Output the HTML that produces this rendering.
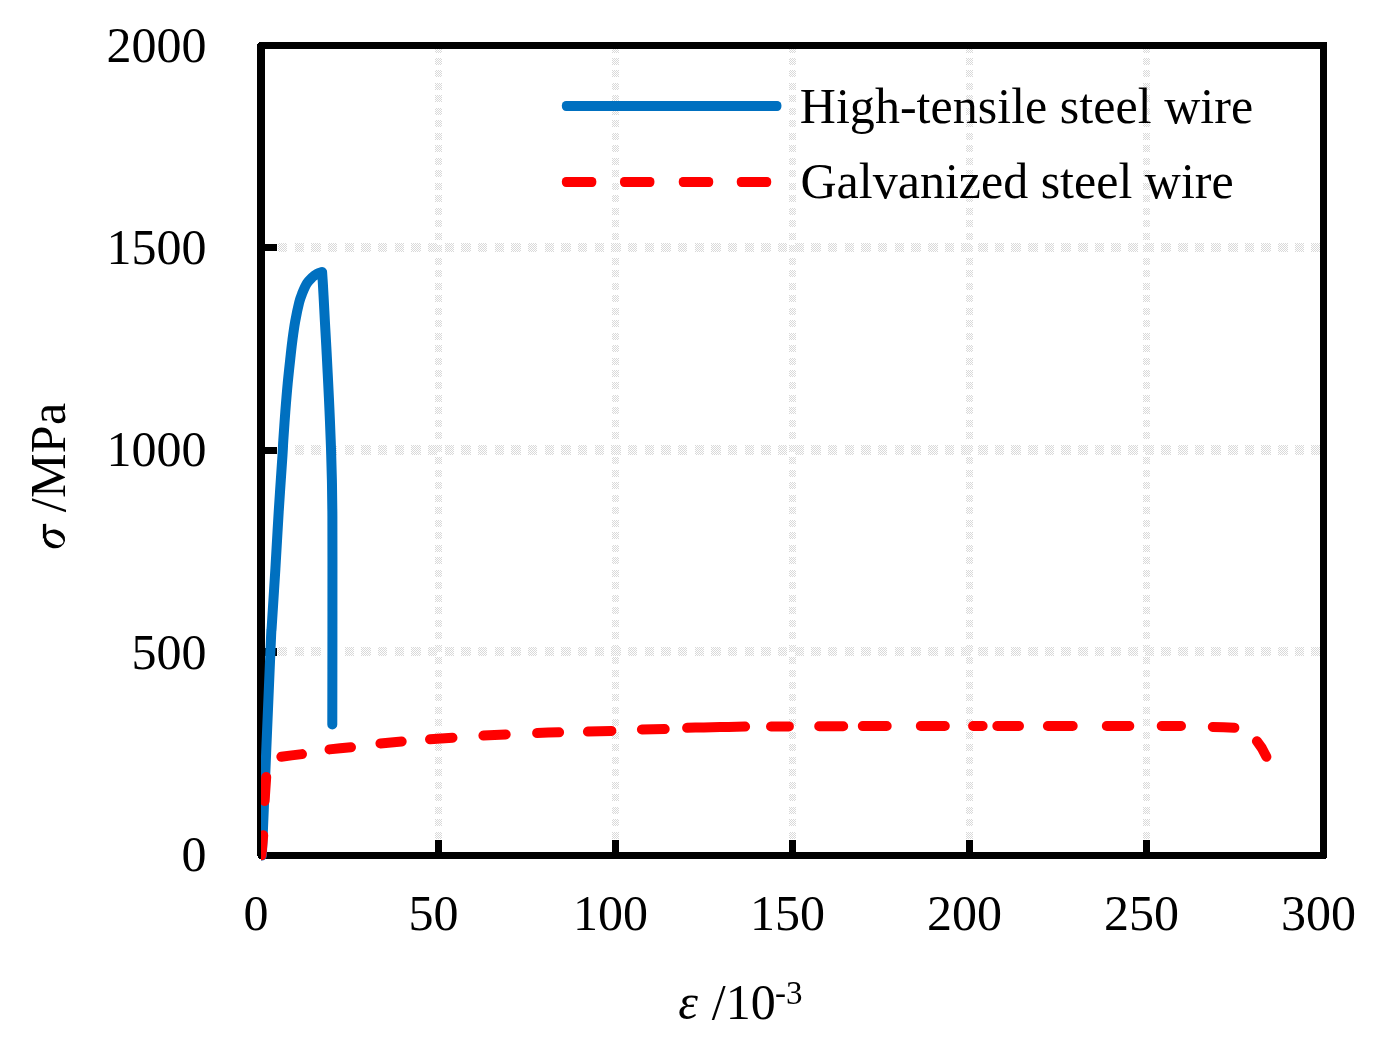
<!DOCTYPE html>
<html><head><meta charset="utf-8"><title>Stress-strain curves</title>
<style>html,body{margin:0;padding:0;background:#fff;}body{width:1378px;height:1055px;overflow:hidden;}svg{display:block;will-change:transform;}text{font-family:"Liberation Serif",serif;fill:#000;}</style>
</head><body>
<svg width="1378" height="1055" viewBox="0 0 1378 1055">
<defs>
<pattern id="chk" x="0" y="0" width="2" height="2" patternUnits="userSpaceOnUse"><rect x="0" y="0" width="1" height="1" fill="#d9d9d9"/><rect x="1" y="1" width="1" height="1" fill="#d9d9d9"/></pattern>
<clipPath id="ser"><rect x="261" y="0" width="1200" height="1055"/></clipPath>
</defs>
<rect x="0" y="0" width="1378" height="1055" fill="#fff"/>
<g fill="url(#chk)" shape-rendering="crispEdges">
<rect x="435" y="49" width="7" height="4"/>
<rect x="435" y="58" width="7" height="7"/>
<rect x="435" y="70" width="7" height="7"/>
<rect x="435" y="83" width="7" height="7"/>
<rect x="435" y="95" width="7" height="7"/>
<rect x="435" y="108" width="7" height="7"/>
<rect x="435" y="120" width="7" height="7"/>
<rect x="435" y="133" width="7" height="7"/>
<rect x="435" y="145" width="7" height="7"/>
<rect x="435" y="158" width="7" height="7"/>
<rect x="435" y="170" width="7" height="7"/>
<rect x="435" y="183" width="7" height="7"/>
<rect x="435" y="195" width="7" height="7"/>
<rect x="435" y="208" width="7" height="7"/>
<rect x="435" y="220" width="7" height="7"/>
<rect x="435" y="233" width="7" height="7"/>
<rect x="435" y="245" width="7" height="7"/>
<rect x="435" y="258" width="7" height="7"/>
<rect x="435" y="270" width="7" height="7"/>
<rect x="435" y="283" width="7" height="7"/>
<rect x="435" y="295" width="7" height="7"/>
<rect x="435" y="308" width="7" height="7"/>
<rect x="435" y="320" width="7" height="7"/>
<rect x="435" y="333" width="7" height="7"/>
<rect x="435" y="345" width="7" height="7"/>
<rect x="435" y="358" width="7" height="7"/>
<rect x="435" y="370" width="7" height="7"/>
<rect x="435" y="382" width="7" height="7"/>
<rect x="435" y="395" width="7" height="7"/>
<rect x="435" y="407" width="7" height="7"/>
<rect x="435" y="420" width="7" height="7"/>
<rect x="435" y="432" width="7" height="7"/>
<rect x="435" y="445" width="7" height="7"/>
<rect x="435" y="457" width="7" height="7"/>
<rect x="435" y="470" width="7" height="7"/>
<rect x="435" y="482" width="7" height="7"/>
<rect x="435" y="495" width="7" height="7"/>
<rect x="435" y="507" width="7" height="7"/>
<rect x="435" y="520" width="7" height="7"/>
<rect x="435" y="532" width="7" height="7"/>
<rect x="435" y="545" width="7" height="7"/>
<rect x="435" y="557" width="7" height="7"/>
<rect x="435" y="570" width="7" height="7"/>
<rect x="435" y="582" width="7" height="7"/>
<rect x="435" y="595" width="7" height="7"/>
<rect x="435" y="607" width="7" height="7"/>
<rect x="435" y="620" width="7" height="7"/>
<rect x="435" y="632" width="7" height="7"/>
<rect x="435" y="645" width="7" height="7"/>
<rect x="435" y="657" width="7" height="7"/>
<rect x="435" y="670" width="7" height="7"/>
<rect x="435" y="682" width="7" height="7"/>
<rect x="435" y="694" width="7" height="7"/>
<rect x="435" y="707" width="7" height="7"/>
<rect x="435" y="719" width="7" height="7"/>
<rect x="435" y="732" width="7" height="7"/>
<rect x="435" y="744" width="7" height="7"/>
<rect x="435" y="757" width="7" height="7"/>
<rect x="435" y="769" width="7" height="7"/>
<rect x="435" y="782" width="7" height="7"/>
<rect x="435" y="794" width="7" height="7"/>
<rect x="435" y="807" width="7" height="7"/>
<rect x="435" y="819" width="7" height="7"/>
<rect x="435" y="832" width="7" height="7"/>
<rect x="435" y="844" width="7" height="7"/>
<rect x="612" y="49" width="7" height="4"/>
<rect x="612" y="58" width="7" height="7"/>
<rect x="612" y="70" width="7" height="7"/>
<rect x="612" y="83" width="7" height="7"/>
<rect x="612" y="95" width="7" height="7"/>
<rect x="612" y="108" width="7" height="7"/>
<rect x="612" y="120" width="7" height="7"/>
<rect x="612" y="133" width="7" height="7"/>
<rect x="612" y="145" width="7" height="7"/>
<rect x="612" y="158" width="7" height="7"/>
<rect x="612" y="170" width="7" height="7"/>
<rect x="612" y="183" width="7" height="7"/>
<rect x="612" y="195" width="7" height="7"/>
<rect x="612" y="208" width="7" height="7"/>
<rect x="612" y="220" width="7" height="7"/>
<rect x="612" y="233" width="7" height="7"/>
<rect x="612" y="245" width="7" height="7"/>
<rect x="612" y="258" width="7" height="7"/>
<rect x="612" y="270" width="7" height="7"/>
<rect x="612" y="283" width="7" height="7"/>
<rect x="612" y="295" width="7" height="7"/>
<rect x="612" y="308" width="7" height="7"/>
<rect x="612" y="320" width="7" height="7"/>
<rect x="612" y="333" width="7" height="7"/>
<rect x="612" y="345" width="7" height="7"/>
<rect x="612" y="358" width="7" height="7"/>
<rect x="612" y="370" width="7" height="7"/>
<rect x="612" y="382" width="7" height="7"/>
<rect x="612" y="395" width="7" height="7"/>
<rect x="612" y="407" width="7" height="7"/>
<rect x="612" y="420" width="7" height="7"/>
<rect x="612" y="432" width="7" height="7"/>
<rect x="612" y="445" width="7" height="7"/>
<rect x="612" y="457" width="7" height="7"/>
<rect x="612" y="470" width="7" height="7"/>
<rect x="612" y="482" width="7" height="7"/>
<rect x="612" y="495" width="7" height="7"/>
<rect x="612" y="507" width="7" height="7"/>
<rect x="612" y="520" width="7" height="7"/>
<rect x="612" y="532" width="7" height="7"/>
<rect x="612" y="545" width="7" height="7"/>
<rect x="612" y="557" width="7" height="7"/>
<rect x="612" y="570" width="7" height="7"/>
<rect x="612" y="582" width="7" height="7"/>
<rect x="612" y="595" width="7" height="7"/>
<rect x="612" y="607" width="7" height="7"/>
<rect x="612" y="620" width="7" height="7"/>
<rect x="612" y="632" width="7" height="7"/>
<rect x="612" y="645" width="7" height="7"/>
<rect x="612" y="657" width="7" height="7"/>
<rect x="612" y="670" width="7" height="7"/>
<rect x="612" y="682" width="7" height="7"/>
<rect x="612" y="694" width="7" height="7"/>
<rect x="612" y="707" width="7" height="7"/>
<rect x="612" y="719" width="7" height="7"/>
<rect x="612" y="732" width="7" height="7"/>
<rect x="612" y="744" width="7" height="7"/>
<rect x="612" y="757" width="7" height="7"/>
<rect x="612" y="769" width="7" height="7"/>
<rect x="612" y="782" width="7" height="7"/>
<rect x="612" y="794" width="7" height="7"/>
<rect x="612" y="807" width="7" height="7"/>
<rect x="612" y="819" width="7" height="7"/>
<rect x="612" y="832" width="7" height="7"/>
<rect x="612" y="844" width="7" height="7"/>
<rect x="789" y="49" width="7" height="4"/>
<rect x="789" y="58" width="7" height="7"/>
<rect x="789" y="70" width="7" height="7"/>
<rect x="789" y="83" width="7" height="7"/>
<rect x="789" y="95" width="7" height="7"/>
<rect x="789" y="108" width="7" height="7"/>
<rect x="789" y="120" width="7" height="7"/>
<rect x="789" y="133" width="7" height="7"/>
<rect x="789" y="145" width="7" height="7"/>
<rect x="789" y="158" width="7" height="7"/>
<rect x="789" y="170" width="7" height="7"/>
<rect x="789" y="183" width="7" height="7"/>
<rect x="789" y="195" width="7" height="7"/>
<rect x="789" y="208" width="7" height="7"/>
<rect x="789" y="220" width="7" height="7"/>
<rect x="789" y="233" width="7" height="7"/>
<rect x="789" y="245" width="7" height="7"/>
<rect x="789" y="258" width="7" height="7"/>
<rect x="789" y="270" width="7" height="7"/>
<rect x="789" y="283" width="7" height="7"/>
<rect x="789" y="295" width="7" height="7"/>
<rect x="789" y="308" width="7" height="7"/>
<rect x="789" y="320" width="7" height="7"/>
<rect x="789" y="333" width="7" height="7"/>
<rect x="789" y="345" width="7" height="7"/>
<rect x="789" y="358" width="7" height="7"/>
<rect x="789" y="370" width="7" height="7"/>
<rect x="789" y="382" width="7" height="7"/>
<rect x="789" y="395" width="7" height="7"/>
<rect x="789" y="407" width="7" height="7"/>
<rect x="789" y="420" width="7" height="7"/>
<rect x="789" y="432" width="7" height="7"/>
<rect x="789" y="445" width="7" height="7"/>
<rect x="789" y="457" width="7" height="7"/>
<rect x="789" y="470" width="7" height="7"/>
<rect x="789" y="482" width="7" height="7"/>
<rect x="789" y="495" width="7" height="7"/>
<rect x="789" y="507" width="7" height="7"/>
<rect x="789" y="520" width="7" height="7"/>
<rect x="789" y="532" width="7" height="7"/>
<rect x="789" y="545" width="7" height="7"/>
<rect x="789" y="557" width="7" height="7"/>
<rect x="789" y="570" width="7" height="7"/>
<rect x="789" y="582" width="7" height="7"/>
<rect x="789" y="595" width="7" height="7"/>
<rect x="789" y="607" width="7" height="7"/>
<rect x="789" y="620" width="7" height="7"/>
<rect x="789" y="632" width="7" height="7"/>
<rect x="789" y="645" width="7" height="7"/>
<rect x="789" y="657" width="7" height="7"/>
<rect x="789" y="670" width="7" height="7"/>
<rect x="789" y="682" width="7" height="7"/>
<rect x="789" y="694" width="7" height="7"/>
<rect x="789" y="707" width="7" height="7"/>
<rect x="789" y="719" width="7" height="7"/>
<rect x="789" y="732" width="7" height="7"/>
<rect x="789" y="744" width="7" height="7"/>
<rect x="789" y="757" width="7" height="7"/>
<rect x="789" y="769" width="7" height="7"/>
<rect x="789" y="782" width="7" height="7"/>
<rect x="789" y="794" width="7" height="7"/>
<rect x="789" y="807" width="7" height="7"/>
<rect x="789" y="819" width="7" height="7"/>
<rect x="789" y="832" width="7" height="7"/>
<rect x="789" y="844" width="7" height="7"/>
<rect x="966" y="49" width="7" height="4"/>
<rect x="966" y="58" width="7" height="7"/>
<rect x="966" y="70" width="7" height="7"/>
<rect x="966" y="83" width="7" height="7"/>
<rect x="966" y="95" width="7" height="7"/>
<rect x="966" y="108" width="7" height="7"/>
<rect x="966" y="120" width="7" height="7"/>
<rect x="966" y="133" width="7" height="7"/>
<rect x="966" y="145" width="7" height="7"/>
<rect x="966" y="158" width="7" height="7"/>
<rect x="966" y="170" width="7" height="7"/>
<rect x="966" y="183" width="7" height="7"/>
<rect x="966" y="195" width="7" height="7"/>
<rect x="966" y="208" width="7" height="7"/>
<rect x="966" y="220" width="7" height="7"/>
<rect x="966" y="233" width="7" height="7"/>
<rect x="966" y="245" width="7" height="7"/>
<rect x="966" y="258" width="7" height="7"/>
<rect x="966" y="270" width="7" height="7"/>
<rect x="966" y="283" width="7" height="7"/>
<rect x="966" y="295" width="7" height="7"/>
<rect x="966" y="308" width="7" height="7"/>
<rect x="966" y="320" width="7" height="7"/>
<rect x="966" y="333" width="7" height="7"/>
<rect x="966" y="345" width="7" height="7"/>
<rect x="966" y="358" width="7" height="7"/>
<rect x="966" y="370" width="7" height="7"/>
<rect x="966" y="382" width="7" height="7"/>
<rect x="966" y="395" width="7" height="7"/>
<rect x="966" y="407" width="7" height="7"/>
<rect x="966" y="420" width="7" height="7"/>
<rect x="966" y="432" width="7" height="7"/>
<rect x="966" y="445" width="7" height="7"/>
<rect x="966" y="457" width="7" height="7"/>
<rect x="966" y="470" width="7" height="7"/>
<rect x="966" y="482" width="7" height="7"/>
<rect x="966" y="495" width="7" height="7"/>
<rect x="966" y="507" width="7" height="7"/>
<rect x="966" y="520" width="7" height="7"/>
<rect x="966" y="532" width="7" height="7"/>
<rect x="966" y="545" width="7" height="7"/>
<rect x="966" y="557" width="7" height="7"/>
<rect x="966" y="570" width="7" height="7"/>
<rect x="966" y="582" width="7" height="7"/>
<rect x="966" y="595" width="7" height="7"/>
<rect x="966" y="607" width="7" height="7"/>
<rect x="966" y="620" width="7" height="7"/>
<rect x="966" y="632" width="7" height="7"/>
<rect x="966" y="645" width="7" height="7"/>
<rect x="966" y="657" width="7" height="7"/>
<rect x="966" y="670" width="7" height="7"/>
<rect x="966" y="682" width="7" height="7"/>
<rect x="966" y="694" width="7" height="7"/>
<rect x="966" y="707" width="7" height="7"/>
<rect x="966" y="719" width="7" height="7"/>
<rect x="966" y="732" width="7" height="7"/>
<rect x="966" y="744" width="7" height="7"/>
<rect x="966" y="757" width="7" height="7"/>
<rect x="966" y="769" width="7" height="7"/>
<rect x="966" y="782" width="7" height="7"/>
<rect x="966" y="794" width="7" height="7"/>
<rect x="966" y="807" width="7" height="7"/>
<rect x="966" y="819" width="7" height="7"/>
<rect x="966" y="832" width="7" height="7"/>
<rect x="966" y="844" width="7" height="7"/>
<rect x="1143" y="49" width="7" height="4"/>
<rect x="1143" y="58" width="7" height="7"/>
<rect x="1143" y="70" width="7" height="7"/>
<rect x="1143" y="83" width="7" height="7"/>
<rect x="1143" y="95" width="7" height="7"/>
<rect x="1143" y="108" width="7" height="7"/>
<rect x="1143" y="120" width="7" height="7"/>
<rect x="1143" y="133" width="7" height="7"/>
<rect x="1143" y="145" width="7" height="7"/>
<rect x="1143" y="158" width="7" height="7"/>
<rect x="1143" y="170" width="7" height="7"/>
<rect x="1143" y="183" width="7" height="7"/>
<rect x="1143" y="195" width="7" height="7"/>
<rect x="1143" y="208" width="7" height="7"/>
<rect x="1143" y="220" width="7" height="7"/>
<rect x="1143" y="233" width="7" height="7"/>
<rect x="1143" y="245" width="7" height="7"/>
<rect x="1143" y="258" width="7" height="7"/>
<rect x="1143" y="270" width="7" height="7"/>
<rect x="1143" y="283" width="7" height="7"/>
<rect x="1143" y="295" width="7" height="7"/>
<rect x="1143" y="308" width="7" height="7"/>
<rect x="1143" y="320" width="7" height="7"/>
<rect x="1143" y="333" width="7" height="7"/>
<rect x="1143" y="345" width="7" height="7"/>
<rect x="1143" y="358" width="7" height="7"/>
<rect x="1143" y="370" width="7" height="7"/>
<rect x="1143" y="382" width="7" height="7"/>
<rect x="1143" y="395" width="7" height="7"/>
<rect x="1143" y="407" width="7" height="7"/>
<rect x="1143" y="420" width="7" height="7"/>
<rect x="1143" y="432" width="7" height="7"/>
<rect x="1143" y="445" width="7" height="7"/>
<rect x="1143" y="457" width="7" height="7"/>
<rect x="1143" y="470" width="7" height="7"/>
<rect x="1143" y="482" width="7" height="7"/>
<rect x="1143" y="495" width="7" height="7"/>
<rect x="1143" y="507" width="7" height="7"/>
<rect x="1143" y="520" width="7" height="7"/>
<rect x="1143" y="532" width="7" height="7"/>
<rect x="1143" y="545" width="7" height="7"/>
<rect x="1143" y="557" width="7" height="7"/>
<rect x="1143" y="570" width="7" height="7"/>
<rect x="1143" y="582" width="7" height="7"/>
<rect x="1143" y="595" width="7" height="7"/>
<rect x="1143" y="607" width="7" height="7"/>
<rect x="1143" y="620" width="7" height="7"/>
<rect x="1143" y="632" width="7" height="7"/>
<rect x="1143" y="645" width="7" height="7"/>
<rect x="1143" y="657" width="7" height="7"/>
<rect x="1143" y="670" width="7" height="7"/>
<rect x="1143" y="682" width="7" height="7"/>
<rect x="1143" y="694" width="7" height="7"/>
<rect x="1143" y="707" width="7" height="7"/>
<rect x="1143" y="719" width="7" height="7"/>
<rect x="1143" y="732" width="7" height="7"/>
<rect x="1143" y="744" width="7" height="7"/>
<rect x="1143" y="757" width="7" height="7"/>
<rect x="1143" y="769" width="7" height="7"/>
<rect x="1143" y="782" width="7" height="7"/>
<rect x="1143" y="794" width="7" height="7"/>
<rect x="1143" y="807" width="7" height="7"/>
<rect x="1143" y="819" width="7" height="7"/>
<rect x="1143" y="832" width="7" height="7"/>
<rect x="1143" y="844" width="7" height="7"/>
<rect x="278" y="647" width="9" height="9"/>
<rect x="295" y="647" width="9" height="9"/>
<rect x="311" y="647" width="10" height="9"/>
<rect x="328" y="647" width="9" height="9"/>
<rect x="345" y="647" width="9" height="9"/>
<rect x="361" y="647" width="10" height="9"/>
<rect x="378" y="647" width="9" height="9"/>
<rect x="395" y="647" width="9" height="9"/>
<rect x="411" y="647" width="10" height="9"/>
<rect x="428" y="647" width="9" height="9"/>
<rect x="445" y="647" width="9" height="9"/>
<rect x="461" y="647" width="10" height="9"/>
<rect x="478" y="647" width="9" height="9"/>
<rect x="495" y="647" width="9" height="9"/>
<rect x="511" y="647" width="10" height="9"/>
<rect x="528" y="647" width="9" height="9"/>
<rect x="545" y="647" width="9" height="9"/>
<rect x="561" y="647" width="10" height="9"/>
<rect x="578" y="647" width="9" height="9"/>
<rect x="595" y="647" width="9" height="9"/>
<rect x="611" y="647" width="10" height="9"/>
<rect x="628" y="647" width="9" height="9"/>
<rect x="645" y="647" width="9" height="9"/>
<rect x="661" y="647" width="10" height="9"/>
<rect x="678" y="647" width="9" height="9"/>
<rect x="695" y="647" width="9" height="9"/>
<rect x="711" y="647" width="10" height="9"/>
<rect x="728" y="647" width="9" height="9"/>
<rect x="745" y="647" width="9" height="9"/>
<rect x="761" y="647" width="10" height="9"/>
<rect x="778" y="647" width="9" height="9"/>
<rect x="795" y="647" width="9" height="9"/>
<rect x="811" y="647" width="10" height="9"/>
<rect x="828" y="647" width="9" height="9"/>
<rect x="845" y="647" width="9" height="9"/>
<rect x="861" y="647" width="10" height="9"/>
<rect x="878" y="647" width="9" height="9"/>
<rect x="895" y="647" width="9" height="9"/>
<rect x="911" y="647" width="10" height="9"/>
<rect x="928" y="647" width="10" height="9"/>
<rect x="945" y="647" width="9" height="9"/>
<rect x="961" y="647" width="10" height="9"/>
<rect x="978" y="647" width="10" height="9"/>
<rect x="995" y="647" width="9" height="9"/>
<rect x="1011" y="647" width="10" height="9"/>
<rect x="1028" y="647" width="10" height="9"/>
<rect x="1045" y="647" width="9" height="9"/>
<rect x="1061" y="647" width="10" height="9"/>
<rect x="1078" y="647" width="10" height="9"/>
<rect x="1095" y="647" width="9" height="9"/>
<rect x="1111" y="647" width="10" height="9"/>
<rect x="1128" y="647" width="10" height="9"/>
<rect x="1145" y="647" width="9" height="9"/>
<rect x="1161" y="647" width="10" height="9"/>
<rect x="1178" y="647" width="10" height="9"/>
<rect x="1195" y="647" width="9" height="9"/>
<rect x="1211" y="647" width="10" height="9"/>
<rect x="1228" y="647" width="10" height="9"/>
<rect x="1245" y="647" width="9" height="9"/>
<rect x="1261" y="647" width="10" height="9"/>
<rect x="1278" y="647" width="10" height="9"/>
<rect x="1295" y="647" width="9" height="9"/>
<rect x="1311" y="647" width="9" height="9"/>
<rect x="278" y="445" width="9" height="10"/>
<rect x="295" y="445" width="9" height="10"/>
<rect x="311" y="445" width="10" height="10"/>
<rect x="328" y="445" width="9" height="10"/>
<rect x="345" y="445" width="9" height="10"/>
<rect x="361" y="445" width="10" height="10"/>
<rect x="378" y="445" width="9" height="10"/>
<rect x="395" y="445" width="9" height="10"/>
<rect x="411" y="445" width="10" height="10"/>
<rect x="428" y="445" width="9" height="10"/>
<rect x="445" y="445" width="9" height="10"/>
<rect x="461" y="445" width="10" height="10"/>
<rect x="478" y="445" width="9" height="10"/>
<rect x="495" y="445" width="9" height="10"/>
<rect x="511" y="445" width="10" height="10"/>
<rect x="528" y="445" width="9" height="10"/>
<rect x="545" y="445" width="9" height="10"/>
<rect x="561" y="445" width="10" height="10"/>
<rect x="578" y="445" width="9" height="10"/>
<rect x="595" y="445" width="9" height="10"/>
<rect x="611" y="445" width="10" height="10"/>
<rect x="628" y="445" width="9" height="10"/>
<rect x="645" y="445" width="9" height="10"/>
<rect x="661" y="445" width="10" height="10"/>
<rect x="678" y="445" width="9" height="10"/>
<rect x="695" y="445" width="9" height="10"/>
<rect x="711" y="445" width="10" height="10"/>
<rect x="728" y="445" width="9" height="10"/>
<rect x="745" y="445" width="9" height="10"/>
<rect x="761" y="445" width="10" height="10"/>
<rect x="778" y="445" width="9" height="10"/>
<rect x="795" y="445" width="9" height="10"/>
<rect x="811" y="445" width="10" height="10"/>
<rect x="828" y="445" width="9" height="10"/>
<rect x="845" y="445" width="9" height="10"/>
<rect x="861" y="445" width="10" height="10"/>
<rect x="878" y="445" width="9" height="10"/>
<rect x="895" y="445" width="9" height="10"/>
<rect x="911" y="445" width="10" height="10"/>
<rect x="928" y="445" width="10" height="10"/>
<rect x="945" y="445" width="9" height="10"/>
<rect x="961" y="445" width="10" height="10"/>
<rect x="978" y="445" width="10" height="10"/>
<rect x="995" y="445" width="9" height="10"/>
<rect x="1011" y="445" width="10" height="10"/>
<rect x="1028" y="445" width="10" height="10"/>
<rect x="1045" y="445" width="9" height="10"/>
<rect x="1061" y="445" width="10" height="10"/>
<rect x="1078" y="445" width="10" height="10"/>
<rect x="1095" y="445" width="9" height="10"/>
<rect x="1111" y="445" width="10" height="10"/>
<rect x="1128" y="445" width="10" height="10"/>
<rect x="1145" y="445" width="9" height="10"/>
<rect x="1161" y="445" width="10" height="10"/>
<rect x="1178" y="445" width="10" height="10"/>
<rect x="1195" y="445" width="9" height="10"/>
<rect x="1211" y="445" width="10" height="10"/>
<rect x="1228" y="445" width="10" height="10"/>
<rect x="1245" y="445" width="9" height="10"/>
<rect x="1261" y="445" width="10" height="10"/>
<rect x="1278" y="445" width="10" height="10"/>
<rect x="1295" y="445" width="9" height="10"/>
<rect x="1311" y="445" width="9" height="10"/>
<rect x="278" y="243" width="9" height="9"/>
<rect x="295" y="243" width="9" height="9"/>
<rect x="311" y="243" width="10" height="9"/>
<rect x="328" y="243" width="9" height="9"/>
<rect x="345" y="243" width="9" height="9"/>
<rect x="361" y="243" width="10" height="9"/>
<rect x="378" y="243" width="9" height="9"/>
<rect x="395" y="243" width="9" height="9"/>
<rect x="411" y="243" width="10" height="9"/>
<rect x="428" y="243" width="9" height="9"/>
<rect x="445" y="243" width="9" height="9"/>
<rect x="461" y="243" width="10" height="9"/>
<rect x="478" y="243" width="9" height="9"/>
<rect x="495" y="243" width="9" height="9"/>
<rect x="511" y="243" width="10" height="9"/>
<rect x="528" y="243" width="9" height="9"/>
<rect x="545" y="243" width="9" height="9"/>
<rect x="561" y="243" width="10" height="9"/>
<rect x="578" y="243" width="9" height="9"/>
<rect x="595" y="243" width="9" height="9"/>
<rect x="611" y="243" width="10" height="9"/>
<rect x="628" y="243" width="9" height="9"/>
<rect x="645" y="243" width="9" height="9"/>
<rect x="661" y="243" width="10" height="9"/>
<rect x="678" y="243" width="9" height="9"/>
<rect x="695" y="243" width="9" height="9"/>
<rect x="711" y="243" width="10" height="9"/>
<rect x="728" y="243" width="9" height="9"/>
<rect x="745" y="243" width="9" height="9"/>
<rect x="761" y="243" width="10" height="9"/>
<rect x="778" y="243" width="9" height="9"/>
<rect x="795" y="243" width="9" height="9"/>
<rect x="811" y="243" width="10" height="9"/>
<rect x="828" y="243" width="9" height="9"/>
<rect x="845" y="243" width="9" height="9"/>
<rect x="861" y="243" width="10" height="9"/>
<rect x="878" y="243" width="9" height="9"/>
<rect x="895" y="243" width="9" height="9"/>
<rect x="911" y="243" width="10" height="9"/>
<rect x="928" y="243" width="10" height="9"/>
<rect x="945" y="243" width="9" height="9"/>
<rect x="961" y="243" width="10" height="9"/>
<rect x="978" y="243" width="10" height="9"/>
<rect x="995" y="243" width="9" height="9"/>
<rect x="1011" y="243" width="10" height="9"/>
<rect x="1028" y="243" width="10" height="9"/>
<rect x="1045" y="243" width="9" height="9"/>
<rect x="1061" y="243" width="10" height="9"/>
<rect x="1078" y="243" width="10" height="9"/>
<rect x="1095" y="243" width="9" height="9"/>
<rect x="1111" y="243" width="10" height="9"/>
<rect x="1128" y="243" width="10" height="9"/>
<rect x="1145" y="243" width="9" height="9"/>
<rect x="1161" y="243" width="10" height="9"/>
<rect x="1178" y="243" width="10" height="9"/>
<rect x="1195" y="243" width="9" height="9"/>
<rect x="1211" y="243" width="10" height="9"/>
<rect x="1228" y="243" width="10" height="9"/>
<rect x="1245" y="243" width="9" height="9"/>
<rect x="1261" y="243" width="10" height="9"/>
<rect x="1278" y="243" width="10" height="9"/>
<rect x="1295" y="243" width="9" height="9"/>
<rect x="1311" y="243" width="9" height="9"/>
</g>
<g fill="#000" shape-rendering="crispEdges">
<rect x="257" y="44" width="8" height="812"/>
<rect x="258" y="855" width="7" height="3"/>
<rect x="258" y="43" width="4" height="4"/>
<rect x="259" y="42" width="1068" height="7"/>
<rect x="1320" y="42" width="7" height="816"/>
<rect x="259" y="852" width="1067" height="7"/>
<rect x="265" y="648" width="12" height="8"/>
<rect x="265" y="447" width="12" height="7"/>
<rect x="265" y="244" width="12" height="7"/>
<rect x="435" y="840" width="7" height="12"/>
<rect x="612" y="840" width="7" height="12"/>
<rect x="789" y="840" width="7" height="12"/>
<rect x="966" y="840" width="7" height="12"/>
<rect x="1143" y="840" width="7" height="12"/>
</g>
<g clip-path="url(#ser)" fill="none" stroke-linecap="round" stroke-linejoin="round">
<path stroke="#0070c0" stroke-width="10" d="M261.85,855.50 C263.28,821.58 268.74,690.33 270.40,652.00 C272.06,613.67 270.97,639.40 271.80,625.50 C272.63,611.60 274.25,587.55 275.40,568.60 C276.55,549.65 277.52,530.73 278.70,511.80 C279.88,492.87 281.73,466.92 282.50,455.00 C283.27,443.08 282.83,447.48 283.30,440.30 C283.77,433.12 284.57,421.38 285.30,411.90 C286.03,402.42 286.80,392.88 287.70,383.40 C288.60,373.92 289.92,362.18 290.70,355.00 C291.48,347.82 291.65,345.90 292.40,340.30 C293.15,334.70 294.07,327.72 295.20,321.40 C296.33,315.08 298.00,307.15 299.20,302.40 C300.40,297.65 301.12,296.07 302.40,292.90 C303.68,289.73 305.30,285.97 306.90,283.40 C308.50,280.83 310.32,279.10 312.00,277.50 C313.68,275.90 315.32,274.72 317.00,273.80 C318.68,272.88 321.25,272.30 322.10,272.00 C322.23,273.90 322.55,278.33 322.85,283.40 C323.15,288.47 323.56,296.07 323.90,302.40 C324.24,308.73 324.56,315.08 324.90,321.40 C325.24,327.72 325.64,334.70 325.95,340.30 C326.26,345.90 326.38,347.82 326.75,355.00 C327.12,362.18 327.73,373.92 328.20,383.40 C328.67,392.88 329.13,402.42 329.55,411.90 C329.97,421.38 330.43,433.12 330.70,440.30 C330.97,447.48 331.00,448.38 331.20,455.00 C331.40,461.62 331.71,470.53 331.90,480.00 C332.09,489.47 332.26,498.47 332.35,511.80 C332.44,525.13 332.44,536.63 332.45,560.00 C332.46,583.37 332.42,624.58 332.40,652.00 C332.38,679.42 332.32,712.42 332.30,724.50"/>
<polyline stroke="#ff0000" stroke-width="10" points="261.4,855.3 263.2,835.2"/>
<polyline stroke="#ff0000" stroke-width="10" points="264.6,801.0 266.2,777.0"/>
<polyline stroke="#ff0000" stroke-width="10" points="281.3,756.7 291.6,755.4 302.0,754.1"/>
<polyline stroke="#ff0000" stroke-width="10" points="329.5,749.4 340.2,748.3 351.0,747.3"/>
<polyline stroke="#ff0000" stroke-width="10" points="380.4,743.4 391.0,742.4 401.7,741.5"/>
<polyline stroke="#ff0000" stroke-width="10" points="430.0,739.2 441.2,738.5 452.5,737.8"/>
<polyline stroke="#ff0000" stroke-width="10" points="483.4,735.5 494.5,735.0 505.7,734.5"/>
<polyline stroke="#ff0000" stroke-width="10" points="537.1,733.0 548.1,732.6 559.1,732.3"/>
<polyline stroke="#ff0000" stroke-width="10" points="587.9,731.6 599.6,731.2 611.4,730.9"/>
<polyline stroke="#ff0000" stroke-width="10" points="641.9,729.5 653.3,729.3 664.7,729.1"/>
<polyline stroke="#ff0000" stroke-width="10" points="687.1,727.8 695.4,727.6 703.7,727.5 712.0,727.3 720.2,727.1 728.5,726.9 736.8,726.8 745.1,726.6"/>
<polyline stroke="#ff0000" stroke-width="10" points="771.0,726.5 780.0,726.4 788.9,726.4"/>
<polyline stroke="#ff0000" stroke-width="10" points="819.2,726.3 827.2,726.3 835.2,726.2 843.2,726.2"/>
<polyline stroke="#ff0000" stroke-width="10" points="862.8,726.1 874.8,726.1 886.7,726.0"/>
<polyline stroke="#ff0000" stroke-width="10" points="920.8,726.0 928.8,726.0 936.8,726.0 944.8,726.0"/>
<polyline stroke="#ff0000" stroke-width="10" points="973.1,726.0 982.6,726.0"/>
<polyline stroke="#ff0000" stroke-width="10" points="997.3,726.0 1008.1,726.0 1019.0,726.0"/>
<polyline stroke="#ff0000" stroke-width="10" points="1047.9,726.0 1056.2,726.0 1064.4,726.0 1072.7,726.0"/>
<polyline stroke="#ff0000" stroke-width="10" points="1106.8,726.0 1118.0,726.0 1129.3,726.0"/>
<polyline stroke="#ff0000" stroke-width="10" points="1161.7,726.0 1171.3,726.0 1181.0,726.0"/>
<polyline stroke="#ff0000" stroke-width="10" points="1212.8,726.9 1223.6,727.2 1234.4,727.7"/>
<polyline stroke="#ff0000" stroke-width="10" points="1256.9,741.2 1261.8,748.0 1266.4,756.8"/>
</g>
<rect x="561.9" y="101" width="219.5" height="10" rx="4.2" fill="#0070c0"/>
<rect x="561.9" y="177" width="34.4" height="10" rx="4.2" fill="#ff0000"/>
<rect x="620.0" y="177" width="34.4" height="10" rx="4.2" fill="#ff0000"/>
<rect x="678.8" y="177" width="34.4" height="10" rx="4.2" fill="#ff0000"/>
<rect x="736.8" y="177" width="34.4" height="10" rx="4.2" fill="#ff0000"/>
<g font-size="50">
<text x="206.5" y="62.0" text-anchor="end">2000</text>
<text x="206.5" y="263.8" text-anchor="end">1500</text>
<text x="206.5" y="466.3" text-anchor="end">1000</text>
<text x="206.5" y="668.8" text-anchor="end">500</text>
<text x="206.5" y="871.0" text-anchor="end">0</text>
<text x="256.0" y="929.5" text-anchor="middle">0</text>
<text x="433.5" y="929.5" text-anchor="middle">50</text>
<text x="610.5" y="929.5" text-anchor="middle">100</text>
<text x="787.5" y="929.5" text-anchor="middle">150</text>
<text x="964.5" y="929.5" text-anchor="middle">200</text>
<text x="1141.5" y="929.5" text-anchor="middle">250</text>
<text x="1318.5" y="929.5" text-anchor="middle">300</text>
<text x="799.8" y="122.5" textLength="453.3" lengthAdjust="spacing">High-tensile steel wire</text>
<text x="800.5" y="197.7">Galvanized steel wire</text>
<text x="678.3" y="1019"><tspan font-style="italic">ε</tspan><tspan dx="1.3"> /10</tspan></text>
<text x="774.9" y="1004" font-size="33">-3</text>
<g transform="translate(65.0,550.3) rotate(-90)">
<text x="0" y="0" textLength="147.5" lengthAdjust="spacing"><tspan font-style="italic" visibility="hidden">σ</tspan> /MPa</text>
<path fill="#000" fill-rule="evenodd" d="M13.26,-21.04 A10.70,9.40 -80.0 1 0 9.54,0.04 A10.70,9.40 -80.0 1 0 13.26,-21.04 Z M14.94,-18.70 A9.20,5.00 -66.0 1 0 7.46,-1.90 A9.20,5.00 -66.0 1 0 14.94,-18.70 Z"/>
<path fill="#000" d="M11.5,-22.1 L26.3,-22.1 L26.6,-18.8 L13.5,-18.8 Z"/>
</g>
</g>
</svg></body></html>
